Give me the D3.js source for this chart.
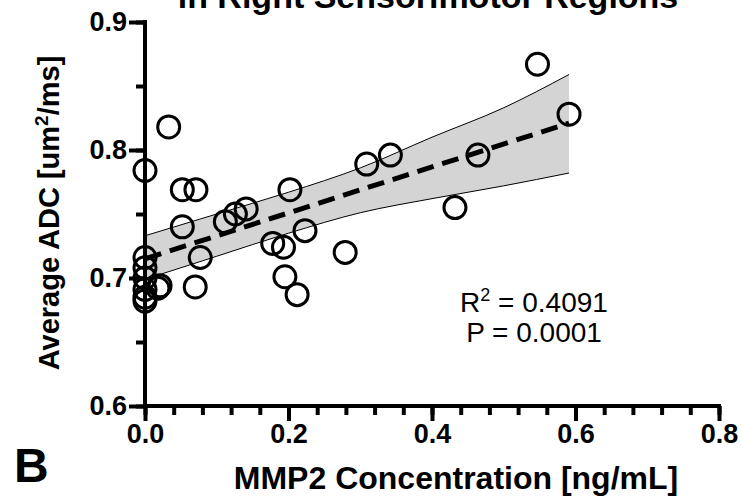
<!DOCTYPE html>
<html>
<head>
<meta charset="utf-8">
<script src="https://cdn.jsdelivr.net/npm/d3@7"></script>
<style>
  body { margin: 0; background: #fff; }
  svg { display: block; font-family: "Liberation Sans", Arial, sans-serif; }
  .axis path, .axis line { stroke: #000; stroke-width: 4; }
  .axis text { font-size: 27px; font-weight: bold; fill: #000; }
</style>
</head>
<body>
<div id="chart"></div>
<script>
// values
var mmp2 = [0, 0, 0, 0, 0, 0, 0.018, 0.021, 0.033, 0.0, 0.052, 0.052, 0.070, 0.071, 0.077,
            0.112, 0.126, 0.141, 0.178, 0.193, 0.195, 0.202, 0.212, 0.223, 0.279,
            0.309, 0.342, 0.432, 0.464, 0.547, 0.591];
var adc  = [0.716, 0.708, 0.700, 0.691, 0.685, 0.682, 0.692, 0.694, 0.818, 0.784, 0.769, 0.740, 0.693, 0.769, 0.716,
            0.744, 0.750, 0.754, 0.727, 0.724, 0.701, 0.769, 0.687, 0.737, 0.720,
            0.789, 0.796, 0.755, 0.796, 0.867, 0.828];

// fitted line and its confidence band
var fitX = [0, 0.591];
var fitY = [0.715, 0.821];
var bandX     = [0, 0.1, 0.2, 0.3, 0.4, 0.5, 0.591];
var bandUpper = [0.733, 0.750, 0.767, 0.786, 0.810, 0.833, 0.859];
var bandLower = [0.699, 0.717, 0.735, 0.751, 0.762, 0.772, 0.782];

var xTicks = [0, 0.2, 0.4, 0.6, 0.8];
var yTicks = [0.6, 0.7, 0.8, 0.9];

var width = 742;
var height = 498;

var svg = d3.select("#chart")
    .append("svg")
    .attr("width", width)
    .attr("height", height);

var x = d3.scaleLinear()
    .domain([0, 0.8])
    .range([145, 719]);

var y = d3.scaleLinear()
    .domain([0.6, 0.9])
    .range([406, 22]);

// confidence band
var band = bandX.map(function(d, i) { return { x: d, lo: bandLower[i], hi: bandUpper[i] }; });

svg.append("path")
    .datum(band)
    .attr("fill", "#d4d4d4")
    .attr("d", d3.area()
        .x(function(d) { return x(d.x); })
        .y0(function(d) { return y(d.lo); })
        .y1(function(d) { return y(d.hi); })
        .curve(d3.curveMonotoneX));

["lo", "hi"].forEach(function(k) {
  svg.append("path")
      .datum(band)
      .attr("fill", "none")
      .attr("stroke", "#000")
      .attr("stroke-width", 1)
      .attr("d", d3.line()
          .x(function(d) { return x(d.x); })
          .y(function(d) { return y(d[k]); })
          .curve(d3.curveMonotoneX));
});

// regression line
svg.append("line")
    .attr("x1", x(fitX[0])).attr("y1", y(fitY[0]))
    .attr("x2", x(fitX[1])).attr("y2", y(fitY[1]))
    .attr("stroke", "#000")
    .attr("stroke-width", 5)
    .attr("stroke-dasharray", "17,9");

// minor ticks first, then the main axes on top
svg.append("g")
    .attr("class", "axis")
    .attr("transform", "translate(0," + y(0.6) + ")")
    .call(d3.axisBottom(x).tickValues(d3.range(0, 21).map(function(i) { return i * 0.04; }))
        .tickSize(9).tickFormat(""))
    .select(".domain").remove();

svg.append("g")
    .attr("class", "axis")
    .attr("transform", "translate(" + x(0) + ",0)")
    .call(d3.axisLeft(y).tickValues(d3.range(0, 7).map(function(i) { return 0.6 + i * 0.05; }))
        .tickSize(9).tickFormat(""))
    .select(".domain").remove();

var xAxis = svg.append("g")
    .attr("class", "axis")
    .attr("transform", "translate(0," + y(0.6) + ")")
    .call(d3.axisBottom(x).tickValues(xTicks).tickFormat(d3.format(".1f"))
        .tickSize(15).tickSizeOuter(0).tickPadding(3));
xAxis.select(".domain").attr("d", "M" + (x(0) - 2) + ",0H" + (x(0.8) + 2));

var yAxis = svg.append("g")
    .attr("class", "axis")
    .attr("transform", "translate(" + x(0) + ",0)")
    .call(d3.axisLeft(y).tickValues(yTicks).tickFormat(d3.format(".1f"))
        .tickSize(16).tickSizeOuter(0).tickPadding(2));
yAxis.select(".domain").attr("d", "M0," + (y(0.6) + 2) + "V" + (y(0.9) - 2));

// points
svg.append("g")
    .selectAll("circle")
    .data(mmp2)
    .enter()
    .append("circle")
    .attr("cx", function(d) { return x(d); })
    .attr("cy", function(d, i) { return y(adc[i]); })
    .attr("r", 11)
    .attr("fill", "none")
    .attr("stroke", "#000")
    .attr("stroke-width", 3);

// titles
svg.append("text")
    .attr("x", 428)
    .attr("y", 8)
    .attr("text-anchor", "middle")
    .style("font-size", "34px")
    .style("font-weight", "bold")
    .text("in Right Sensorimotor Regions");

svg.append("text")
    .attr("x", 456)
    .attr("y", 489)
    .attr("text-anchor", "middle")
    .style("font-size", "32px")
    .style("font-weight", "bold")
    .text("MMP2 Concentration [ng/mL]");

var yLabel = svg.append("text")
    .attr("transform", "translate(59,213) rotate(-90)")
    .attr("text-anchor", "middle")
    .style("font-size", "29px")
    .style("font-weight", "bold");
yLabel.append("tspan").text("Average ADC [um");
yLabel.append("tspan").attr("dy", -11).style("font-size", "19px").text("2");
yLabel.append("tspan").attr("dy", 11).text("/ms]");

svg.append("text")
    .attr("x", 14)
    .attr("y", 482)
    .style("font-size", "48px")
    .style("font-weight", "bold")
    .text("B");

// statistics
var r2 = svg.append("text")
    .attr("x", 534)
    .attr("y", 312)
    .attr("text-anchor", "middle")
    .style("font-size", "28px");
r2.append("tspan").text("R");
r2.append("tspan").attr("dy", -11).style("font-size", "18px").text("2");
r2.append("tspan").attr("dy", 11).text(" = 0.4091");

svg.append("text")
    .attr("x", 534)
    .attr("y", 342)
    .attr("text-anchor", "middle")
    .style("font-size", "28px")
    .text("P = 0.0001");
</script>
</body>
</html>
